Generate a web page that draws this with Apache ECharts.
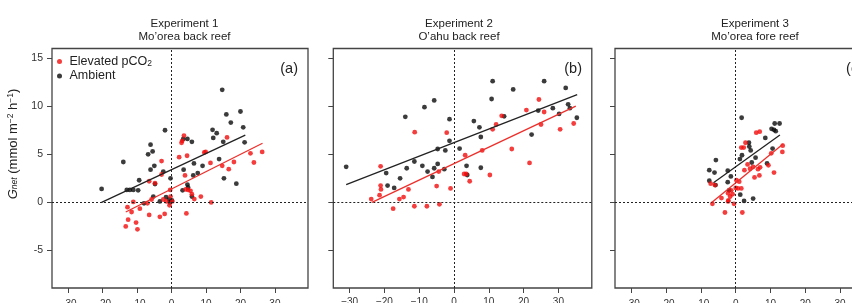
<!DOCTYPE html>
<html>
<head>
<meta charset="utf-8">
<script src="https://cdn.jsdelivr.net/npm/echarts@6/dist/echarts.min.js"></script>
<style>
html, body { margin: 0; padding: 0; background: #fff; }
#chart { width: 852px; height: 303px; }
</style>
</head>
<body>
<div id="chart"></div>
<script>
// shared axes
var xTicks = [-30, -20, -10, 0, 10, 20, 30];
var yTicks = [-5, 0, 5, 10, 15];
var xRange = [-34.7, 39.6];
var yRange = [-8.9, 16];

var titles = ['Experiment 1\nMo’orea back reef', 'Experiment 2\nO’ahu back reef', 'Experiment 3\nMo’orea fore reef'];
var tags = ['(a)', '(b)', '(c)'];

// Experiment 1 points [x, Gnet]
var elevated1 = [[-13.3,-2.5],[-12.6,-1.8],[-12.8,-0.5],[-11.6,-1.0],[-11.1,0.05],[-10.3,-2.1],[-9.9,-2.8],[-9.2,-0.65],
  [-7.0,-0.1],[-6.5,-1.3],[-6.5,2.2],[-5.8,0.3],[-4.8,2.0],[-2.9,4.3],[-2.9,2.9],[-3.4,-1.5],[-2.0,-1.2],[-1.5,0.1],
  [-2.4,0.3],[-0.6,-0.3],[-0.4,1.3],[0.2,0.1],[-0.3,0.6],[2.2,4.7],[2.9,6.2],[3.1,6.4],[3.6,6.95],[4.5,4.85],[3.9,2.8],
  [4.1,1.35],[4.8,1.3],[5.5,1.2],[5.9,0.85],[6.6,0.35],[4.3,-1.15],[8.5,0.6],[9.5,5.2],[9.9,5.25],[11.3,4.1],[11.5,0.0],
  [14.7,3.8],[16.1,6.75],[16.6,3.45],[18.1,4.2],[22.9,5.1],[23.9,4.15],[26.3,5.25]];
var ambient1 = [[-20.3,1.4],[-14.0,4.2],[-13.0,1.3],[-12.1,1.3],[-11.1,1.3],[-9.7,1.25],[-9.4,2.3],[-8.0,-0.1],[-6.8,5.0],
  [-6.1,6.0],[-5.5,5.3],[-6.1,3.4],[-5.0,3.8],[-4.8,1.9],[-5.3,0.6],[-1.9,7.5],[-2.4,3.2],[-3.4,0.1],[-1.6,0.55],[-0.7,0.3],
  [0.1,0.2],[-0.3,2.5],[-0.5,0.0],[3.4,6.6],[4.6,6.6],[5.9,6.3],[3.5,3.4],[3.2,1.25],[4.6,1.85],[4.8,1.55],[5.9,0.6],
  [6.3,2.8],[6.5,4.05],[7.6,3.05],[9.0,3.8],[11.9,7.55],[13.1,7.2],[12.1,6.7],[13.8,4.5],[14.7,11.7],[15.0,6.3],[15.2,2.5],
  [15.9,9.15],[17.2,8.3],[18.8,1.95],[20.0,9.45],[20.8,7.8],[21.2,6.25]];

// Experiment 2
var elevated2 = [[-23.8,0.35],[-21.1,3.75],[-21.1,1.75],[-21.0,1.35],[-21.4,0.75],[-17.5,-0.65],[-15.7,0.35],[-14.5,0.55],
  [-13.1,1.35],[-11.3,7.3],[-11.4,-0.4],[-7.8,-0.4],[-5.0,1.7],[-4.4,3.2],[-4.2,-0.2],[-2.1,7.25],[-1.0,1.45],[3.2,4.9],
  [2.9,2.95],[3.5,2.95],[4.5,2.2],[8.1,5.4],[10.3,2.85],[11.1,7.6],[12.1,8.1],[13.7,9.0],[16.6,5.55],[20.8,9.6],[21.7,4.1],
  [24.4,10.7],[25.0,8.1],[25.9,9.4],[30.5,7.6],[34.4,8.2]];
var ambient2 = [[-31.0,3.7],[-19.5,3.05],[-19.1,1.75],[-17.2,1.5],[-15.5,2.5],[-14.0,8.9],[-13.6,3.55],[-11.4,4.25],[-9.1,3.8],
  [-8.5,9.9],[-7.6,3.2],[-6.2,2.65],[-5.7,3.55],[-5.7,10.6],[-4.7,5.55],[-4.7,4.0],[-2.8,3.45],[-2.5,5.4],[-1.3,6.4],
  [-1.3,8.65],[1.6,5.6],[3.6,3.8],[3.8,2.85],[5.7,8.45],[7.3,7.8],[7.7,6.8],[7.7,3.6],[11.1,12.6],[10.8,10.75],[14.4,8.95],
  [17.0,11.75],[22.3,7.05],[24.2,9.55],[25.9,12.6],[28.4,9.8],[30.2,9.2],[32.1,11.9],[32.8,10.2],[33.3,9.8],[35.3,8.8]];

// Experiment 3
var elevated3 = [[-6.7,-0.15],[-7.2,1.95],[-6.0,1.8],[-4.1,0.45],[-3.1,-1.05],[-2.2,0.1],[-2.2,0.95],[-1.6,0.6],[-1.3,1.25],
  [-0.9,0.85],[-0.5,-0.15],[0.0,1.5],[0.6,1.45],[1.0,2.15],[1.6,1.45],[1.9,-1.05],[1.6,5.7],[2.3,5.7],[2.8,6.2],[2.5,3.35],
  [3.4,3.95],[5.0,3.7],[5.4,2.6],[5.9,7.25],[6.9,7.35],[6.4,3.45],[7.0,3.65],[6.8,2.8],[10.2,5.1],[11.0,3.1],[13.5,5.9],
  [13.4,5.25],[9.4,3.85],[0.2,2.3],[-2.1,0.2],[4.1,3.5]];
var ambient3 = [[-7.6,3.35],[-6.1,3.1],[-5.7,4.4],[-7.6,2.25],[-5.8,1.8],[-2.3,3.3],[-2.3,2.1],[-1.4,2.7],[-1.9,1.25],[1.2,4.5],
  [1.8,4.9],[1.7,8.8],[3.8,6.2],[3.9,5.8],[4.3,5.4],[4.6,4.15],[5.7,4.65],[8.5,6.7],[9.0,4.05],[10.3,7.65],[11.0,7.55],
  [11.5,7.4],[11.2,8.2],[12.6,8.2],[10.6,5.6],[1.3,0.8],[2.4,0.15],[5.0,0.4]];

// regression lines (end points)
var fitElevated1 = [[-13.3,-1.0],[26.4,6.15]];
var fitAmbient1 = [[-20.3,0.0],[21.4,7.0]];
var fitElevated2 = [[-23.6,0.0],[35.0,10.0]];
var fitAmbient2 = [[-31.0,1.85],[35.4,11.2]];
var fitElevated3 = [[-6.9,0.0],[13.7,6.1]];
var fitAmbient3 = [[-6.4,2.05],[12.7,7.0]];

var panels = [
  { elev: elevated1, amb: ambient1, fitE: fitElevated1, fitA: fitAmbient1 },
  { elev: elevated2, amb: ambient2, fitE: fitElevated2, fitA: fitAmbient2 },
  { elev: elevated3, amb: ambient3, fitE: fitElevated3, fitA: fitAmbient3 }
];

var FONT = '"Liberation Sans", Arial, Helvetica, sans-serif';
var RED = '#f20d0d';
var BLACK = '#0a0a0a';

// layout of the three boxes
var boxes = [
  { left: 52, width: 256, titleX: 184.5, tagX: 298, labelMargin: 11 },
  { left: 333.3, width: 258.5, titleX: 459, tagX: 582, labelMargin: 9 },
  { left: 615, width: 258.5, titleX: 755, tagX: 863, labelMargin: 11 }
];
var boxTop = 48.5, boxHeight = 239.5;

var chart = echarts.init(document.getElementById('chart'), null, { renderer: 'canvas' });

var grid = [], xAxis = [], yAxis = [], series = [], title = [], graphic = [];

boxes.forEach(function (b, i) {
  grid.push({
    left: b.left, top: boxTop, width: b.width, height: boxHeight,
    outerBoundsMode: 'none', containLabel: false,
    show: true, borderColor: '#444', borderWidth: 1.3, backgroundColor: 'transparent'
  });
  xAxis.push({
    gridIndex: i, type: 'value', min: xRange[0], max: xRange[1],
    axisLine: { show: false, onZero: false },
    splitLine: { show: false },
    axisTick: { show: true, length: 5, customValues: xTicks, lineStyle: { color: '#444' } },
    axisLabel: {
      customValues: xTicks, margin: b.labelMargin, fontSize: 10, color: '#333', fontFamily: FONT,
      formatter: function (v) { return v < 0 ? '\u2212' + Math.abs(v) : String(v); }
    }
  });
  yAxis.push({
    gridIndex: i, type: 'value', min: yRange[0], max: yRange[1],
    axisLine: { show: false, onZero: false },
    splitLine: { show: false },
    axisTick: { show: true, length: 5, customValues: yTicks, lineStyle: { color: '#444' } },
    axisLabel: {
      show: i === 0, customValues: yTicks, margin: 9, fontSize: 10.5, color: '#333', fontFamily: FONT,
      formatter: function (v) { return v < 0 ? '-' + Math.abs(v) : String(v); }
    }
  });
  title.push({
    text: titles[i], left: b.titleX, top: 17.5, textAlign: 'center', padding: 0,
    textStyle: { fontSize: 11.5, lineHeight: 13, fontWeight: 'normal', color: '#222', fontFamily: FONT }
  });
  graphic.push({
    type: 'text', x: b.tagX, y: 69,
    style: { text: tags[i], align: 'right', verticalAlign: 'middle', fontSize: 14.5, fontFamily: FONT, fill: '#222' }
  });

  var p = panels[i];
  series.push({
    name: 'Ambient', type: 'scatter', xAxisIndex: i, yAxisIndex: i, data: p.amb,
    symbolSize: 4.8, itemStyle: { color: BLACK }, z: 3,
    markLine: {
      silent: true, symbol: 'none', label: { show: false },
      lineStyle: { color: '#222', type: [2, 2], width: 1 },
      data: [{ xAxis: 0 }, { yAxis: 0 }]
    }
  });
  series.push({
    name: 'Elevated pCO2', type: 'scatter', xAxisIndex: i, yAxisIndex: i, data: p.elev,
    symbolSize: 4.8, itemStyle: { color: RED }, z: 4
  });
  series.push({
    name: 'fitA', type: 'line', xAxisIndex: i, yAxisIndex: i, data: p.fitA,
    symbol: 'none', lineStyle: { color: '#222', width: 1.3 }, z: 5
  });
  series.push({
    name: 'fitE', type: 'line', xAxisIndex: i, yAxisIndex: i, data: p.fitE,
    symbol: 'none', lineStyle: { color: '#ec2f2b', width: 1.3 }, z: 5
  });
});

// y axis name with sub/superscripts
graphic.push({
  type: 'text', x: 13, y: 144, rotation: Math.PI / 2,
  style: {
    text: '{g|G}{s|net}{t| (mmol m}{p|\u22122}{t| h}{p|\u22121}{t|)}',
    align: 'center', verticalAlign: 'middle', fill: '#222',
    rich: {
      g: { fontSize: 13, fontStyle: 'italic', fontFamily: FONT, fill: '#222' },
      s: { fontSize: 8.5, fontStyle: 'italic', fontFamily: FONT, fill: '#222', verticalAlign: 'bottom' },
      t: { fontSize: 13, fontFamily: FONT, fill: '#222' },
      p: { fontSize: 8.5, fontFamily: FONT, fill: '#222', verticalAlign: 'top' }
    }
  }
});

chart.setOption({
  animation: false,
  backgroundColor: '#fff',
  title: title,
  grid: grid,
  xAxis: xAxis,
  yAxis: yAxis,
  legend: {
    data: ['Elevated pCO2', 'Ambient'],
    orient: 'vertical', left: 57, top: 55, padding: 0,
    itemWidth: 10, itemHeight: 5, itemGap: 1, icon: 'circle',
    selectedMode: false,
    formatter: function (name) {
      return name === 'Elevated pCO2' ? '{t|Elevated pCO}{s|2}' : '{t|' + name + '}';
    },
    textStyle: {
      fontFamily: FONT, color: '#222', fontSize: 12.5,
      rich: {
        t: { fontSize: 12.5, color: '#222', fontFamily: FONT, lineHeight: 14 },
        s: { fontSize: 8.5, color: '#222', fontFamily: FONT, verticalAlign: 'bottom', lineHeight: 14 }
      }
    }
  },
  graphic: graphic,
  series: series
});
</script>
</body>
</html>
